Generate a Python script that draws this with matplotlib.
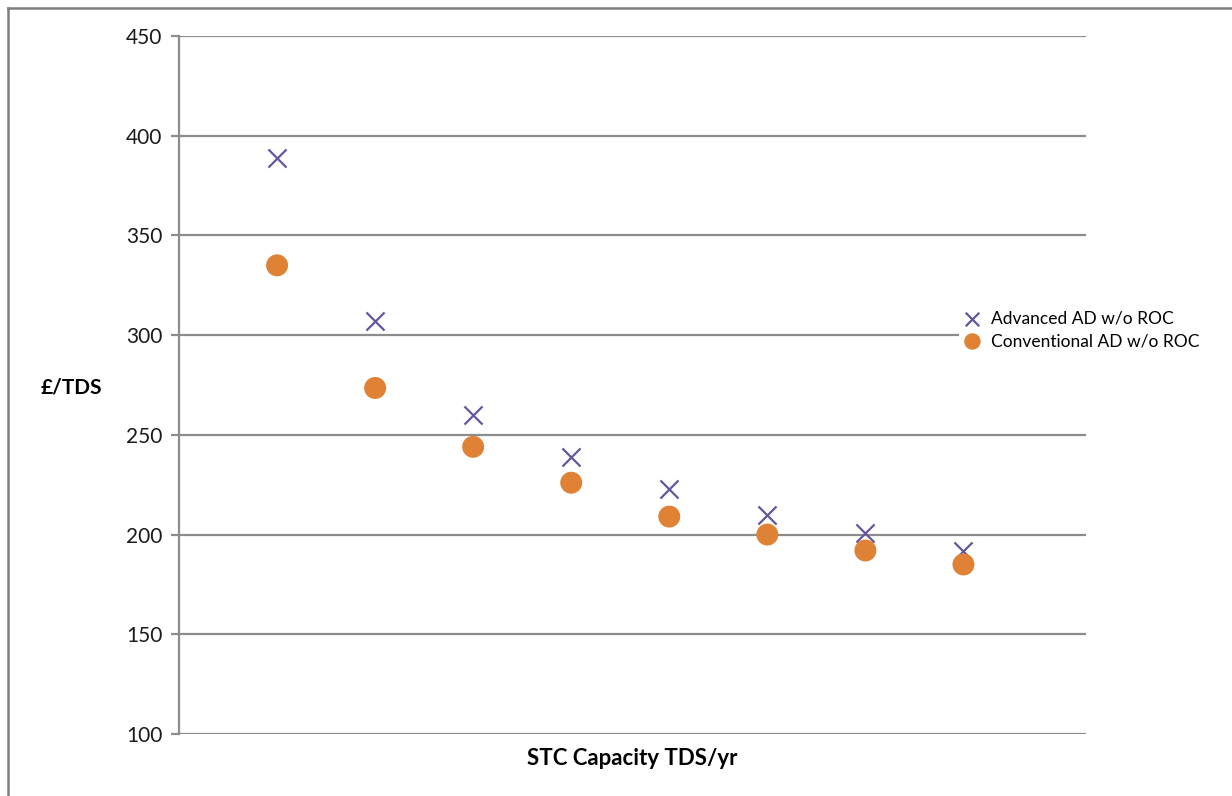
import matplotlib.pyplot as plt
from matplotlib.lines import Line2D

plt.rcParams['font.family'] = ['Lato', 'DejaVu Sans']

# Datos
capacity_idx = [1, 2, 3, 4, 5, 6, 7, 8]
advanced_ad = [389, 307, 260, 239, 223, 210, 201, 192]
conventional_ad = [335, 273.5, 244, 226, 209, 200, 192, 185]
y_ticks = [100, 150, 200, 250, 300, 350, 400, 450]

fig = plt.figure(figsize=(12.32, 7.96), dpi=100)
ax = fig.add_axes([0.1453, 0.0779, 0.7362, 0.8769])

grid_col = "#8c8c8c"
ax.set_ylim(100, 450)
ax.set_xlim(0, 9.25)
ax.set_yticks(y_ticks)
ax.yaxis.grid(True, color=grid_col, linewidth=1.6)
ax.set_axisbelow(True)
ax.set_xticks([])

for s in ["top", "right", "bottom"]:
    ax.spines[s].set_visible(False)
ax.spines["left"].set_color(grid_col)
ax.spines["left"].set_linewidth(1.6)
ax.tick_params(axis="y", length=6, width=1.6, color=grid_col, labelsize=15,
               labelcolor="#1a1a1a", pad=6)

ax.scatter(capacity_idx, advanced_ad, marker="x", s=170, color="#66559a",
           linewidths=1.6, label="Advanced AD w/o ROC", zorder=3)
ax.scatter(capacity_idx, conventional_ad, marker="o", s=250, color="#df8236",
           edgecolors="none", label="Conventional AD w/o ROC", zorder=3)

ax.set_xlabel("STC Capacity TDS/yr", fontsize=16, fontweight="bold", labelpad=10)
fig.text(0.033, 0.513, "£/TDS", fontsize=15, fontweight="bold", va="center", ha="left")

leg = ax.legend(loc="center left", bbox_to_anchor=(0.771, 0.586), bbox_transform=fig.transFigure,
                frameon=True, fontsize=12.5, handletextpad=0.55, labelspacing=0.4,
                borderpad=0.3, handlelength=1.0, markerscale=0.75)
leg.get_frame().set_facecolor("white")
leg.get_frame().set_edgecolor("none")
leg.get_frame().set_alpha(1)

# marco exterior del grafico
fig.add_artist(Line2D([0.0065, 0.0065], [0.0, 0.99], color="#7f7f7f", linewidth=1.8,
                      transform=fig.transFigure))
fig.add_artist(Line2D([0.0065, 1.0], [0.99, 0.99], color="#7f7f7f", linewidth=1.8,
                      transform=fig.transFigure))

fig.savefig("out.png", dpi=100)
